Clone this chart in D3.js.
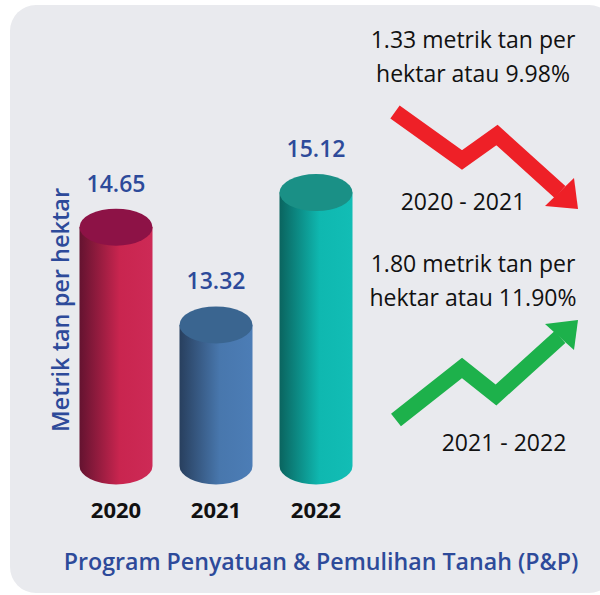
<!DOCTYPE html>
<html lang="en">
<head>
	<meta charset="UTF-8">
	<title>Program Penyatuan &amp; Pemulihan Tanah (P&amp;P)</title>
	<script src="https://cdn.jsdelivr.net/npm/d3@7"></script>
	<style>
		body { margin: 0; background: #fff; }
		text { font-family: "Open Sans", "Noto Sans", sans-serif; }
		.value { fill: #2d4a9a; font-size: 23px; font-weight: 600; }
		.year { fill: #111; font-size: 22px; font-weight: 700; }
		.note { fill: #111; font-size: 23px; }
		.title { fill: #2d4a9a; font-size: 23.2px; font-weight: 600; }
	</style>
</head>
<body>
	<div id="container"></div>
	<script>
		var width = 600,
			height = 595;

		// data
		var years = ["2020", "2021", "2022"];
		var values = [14.65, 13.32, 15.12];
		var sideColors = [["#641330", "#c9254f", "#cd2a56"], ["#283f5e", "#4877ad", "#4c7db6"], ["#0a645f", "#0fb8b0", "#12bdb5"]];
		var topColors = ["#8d1246", "#3a6590", "#1a9086"];

		var changes = [
			{ lines: ["1.33 metrik tan per", "hektar atau 9.98%"], period: "2020 - 2021", dir: "down" },
			{ lines: ["1.80 metrik tan per", "hektar atau 11.90%"], period: "2021 - 2022", dir: "up" }
		];

		var svg = d3.select("#container").append("svg")
			.attr("width", width)
			.attr("height", height);

		// background panel
		svg.append("rect")
			.attr("x", 10)
			.attr("y", 5)
			.attr("width", 605)
			.attr("height", 588)
			.attr("rx", 26)
			.attr("fill", "#e9eaee");

		var defs = svg.append("defs");
		sideColors.forEach(function(c, i) {
			var g = defs.append("linearGradient")
				.attr("id", "side" + i)
				.attr("x1", 0).attr("x2", 1).attr("y1", 0).attr("y2", 0);
			g.append("stop").attr("offset", "0%").attr("stop-color", c[0]);
			g.append("stop").attr("offset", "55%").attr("stop-color", c[1]);
			g.append("stop").attr("offset", "100%").attr("stop-color", c[2]);
		});

		var x = d3.scalePoint()
			.domain(years)
			.range([116, 316]);

		var y = d3.scaleLinear()
			.domain([11.4, 15.4])
			.range([466, 172]);

		var rx = 36.5, ry = 18.5;
		var base = y(11.4);

		var bars = svg.selectAll(".cyl")
			.data(years)
			.enter().append("g")
				.attr("class", "cyl");

		bars.append("path")
			.attr("d", function(d, i) {
				var cx = x(d), top = y(values[i]);
				return "M" + (cx - rx) + "," + top +
					"L" + (cx - rx) + "," + base +
					"A" + rx + "," + ry + " 0 0 0 " + (cx + rx) + "," + base +
					"L" + (cx + rx) + "," + top + "Z";
			})
			.attr("fill", function(d, i) { return "url(#side" + i + ")"; });

		bars.append("ellipse")
			.attr("cx", function(d) { return x(d); })
			.attr("cy", function(d, i) { return y(values[i]); })
			.attr("rx", rx)
			.attr("ry", ry)
			.attr("fill", function(d, i) { return topColors[i]; });

		bars.append("text")
			.attr("class", "value")
			.attr("text-anchor", "middle")
			.attr("x", function(d) { return x(d); })
			.attr("y", function(d, i) { return y(values[i]) - ry - 17; })
			.text(function(d, i) { return values[i].toFixed(2); });

		bars.append("text")
			.attr("class", "year")
			.attr("text-anchor", "middle")
			.attr("x", function(d) { return x(d); })
			.attr("y", 518)
			.text(function(d) { return d; });

		// axis title
		svg.append("text")
			.attr("class", "value")
			.attr("text-anchor", "middle")
			.attr("transform", "translate(69,310) rotate(-90)")
			.style("font-size", "23.5px")
			.text("Metrik tan per hektar");

		svg.append("text")
			.attr("class", "title")
			.attr("text-anchor", "middle")
			.attr("x", 321)
			.attr("y", 570)
			.text("Program Penyatuan & Pemulihan Tanah (P&P)");

		// change notes with arrows
		var noteY = [48, 272];
		var periodPos = [[463, 210], [504, 451]];
		var arrows = {
			down: { color: "#ee2027", pts: [[395, 112], [462, 160], [497, 135], [560, 192]], head: [[545, 206], [578, 209], [574, 178]] },
			up: { color: "#1db14b", pts: [[396, 420], [462, 368], [496, 395], [560, 337]], head: [[545, 324], [578, 320], [574, 350]] }
		};

		changes.forEach(function(c, i) {
			var t = svg.append("text")
				.attr("class", "note")
				.attr("text-anchor", "middle");
			c.lines.forEach(function(l, j) {
				t.append("tspan")
					.attr("x", 473)
					.attr("y", noteY[i] + j * 34)
					.text(l);
			});

			svg.append("text")
				.attr("class", "note")
				.attr("text-anchor", "middle")
				.attr("x", periodPos[i][0])
				.attr("y", periodPos[i][1])
				.text(c.period);

			var a = arrows[c.dir];
			svg.append("path")
				.attr("d", d3.line()(a.pts))
				.attr("fill", "none")
				.attr("stroke", a.color)
				.attr("stroke-width", 16)
				.attr("stroke-linejoin", "miter");
			svg.append("path")
				.attr("d", d3.line()(a.head) + "Z")
				.attr("fill", a.color);
		});
	</script>
</body>
</html>
